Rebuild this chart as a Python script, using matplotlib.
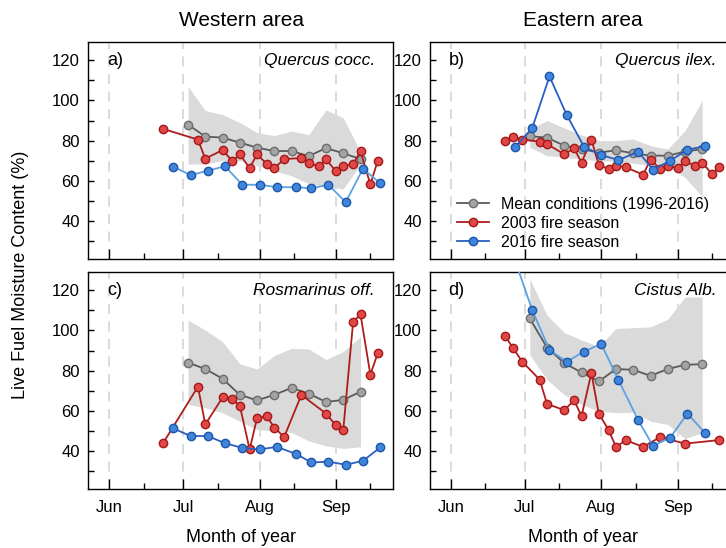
import matplotlib
matplotlib.use('Agg')
import matplotlib.pyplot as plt
from matplotlib.ticker import FixedLocator

plt.rcParams['font.family'] = ['Liberation Sans', 'DejaVu Sans']

# x positions are day of year
month_days = [152, 182, 213, 244]
month_names = ['Jun', 'Jul', 'Aug', 'Sep']
mid_month_days = [166, 196, 227, 258]

# weekly mean conditions (1996-2016)
mean_days = [184, 191, 198, 205, 212, 219, 226, 233, 240, 247, 254]

# a) Quercus cocc.
a_mean = [88, 82, 81.5, 79, 76.5, 74.8, 74.8, 72.3, 76.3, 73.7, 70.8]
a_upper = [107, 95, 93, 89, 84, 82.5, 84.7, 83, 95.3, 91.3, 74.5]
a_lower = [68.3, 68.3, 70, 70, 67.5, 65, 62.5, 58.5, 57, 56, 68]
a_days03 = [174, 188, 191, 198, 202, 205, 209, 212, 216, 219, 223, 230, 233, 237, 240, 244, 247, 251, 254, 258, 261]
a_fire03 = [85.8, 80.5, 71, 75.3, 69.8, 73.2, 66.3, 73.2, 68.3, 66.2, 70.8, 71.3, 68.8, 67.2, 70.7, 64.7, 67.3, 68.3, 74.7, 58.2, 70]
a_days16 = [178, 185, 192, 199, 206, 213, 220, 228, 234, 241, 248, 255, 262]
a_fire16 = [67, 62.8, 65, 67.2, 58, 58, 56.8, 56.8, 56.2, 58, 49.3, 66, 58.7]

# b) Quercus ilex.
b_mean = [82.2, 81.5, 77.5, 75.8, 74, 75.2, 73.7, 72.5, 72.5, 74.5, 75.8]
b_upper = [85.8, 90, 86.3, 82.8, 80, 80, 80.8, 77.5, 75.8, 85, 100]
b_lower = [76.7, 72.5, 71.7, 70.8, 70, 69.7, 68.8, 67.5, 67, 61.7, 52]
b_days03 = [174, 177, 181, 188, 191, 198, 202, 205, 209, 212, 216, 219, 223, 230, 233, 237, 240, 244, 247, 251, 254, 258, 261]
b_fire03 = [80, 81.7, 80.5, 79.5, 78.3, 73.2, 76.2, 69, 80.5, 68, 65.8, 67.5, 66.7, 63, 70.5, 65.8, 67.5, 66.2, 69.7, 67.5, 69, 63.3, 67]
b_days16 = [178, 185, 192, 199, 206, 213, 220, 228, 234, 241, 248, 255]
b_fire16 = [76.7, 86.3, 112, 92.8, 77, 72.8, 70.3, 74.5, 65.5, 70, 75.5, 77.2]

# c) Rosmarinus off.
c_mean = [84, 80.8, 76, 67.9, 65.2, 67.9, 71.4, 68.5, 64.4, 65.4, 69.5]
c_upper = [105.2, 100.2, 94.4, 83.4, 80.8, 87.5, 91.1, 90.8, 85.5, 89.5, 96.9]
c_lower = [63.1, 61.5, 59, 54.8, 50.7, 49.9, 49.1, 45, 42.5, 41.2, 42]
c_days03 = [174, 188, 191, 198, 202, 205, 209, 212, 216, 219, 223, 230, 240, 244, 247, 251, 254, 258, 261]
c_fire03 = [44.1, 72, 53.2, 66.6, 65.6, 62.6, 40.7, 56.3, 57.2, 51.6, 46.9, 67.9, 58.6, 52.7, 50.4, 104.3, 108, 78, 88.7]
c_days16 = [178, 185, 192, 199, 206, 213, 220, 228, 234, 241, 248, 255, 262]
c_fire16 = [51.2, 47.4, 47.4, 43.8, 41.5, 40.7, 42, 38.4, 34.2, 34.6, 33.1, 35, 41.7]

# d) Cistus Alb.
d_mean = [106, 91.5, 83.7, 79.1, 74.6, 80.8, 80.4, 77.4, 80.8, 82.9, 83.2]
d_upper = [125.8, 107.6, 99, 95.3, 92, 101, 101.4, 101.8, 105.6, 116.7, 116.7]
d_lower = [87.8, 75.5, 68, 63.1, 59.8, 59, 59.3, 54.8, 53.2, 46.1, 49.1]
d_days03 = [174, 177, 181, 188, 191, 198, 202, 205, 209, 212, 216, 219, 223, 230, 237, 247, 261]
d_fire03 = [97.4, 91.5, 84.4, 75.5, 63.4, 60.3, 65.2, 57.3, 78.8, 58.6, 50.4, 42, 45.3, 42, 46.9, 43.6, 45.4]
d_days16 = [178, 185, 192, 199, 206, 213, 220, 228, 234, 241, 248, 255]
d_fire16 = [135, 110.1, 90.3, 84.4, 89.5, 93.3, 75.3, 55.3, 42.5, 46.6, 58.6, 49.1]

panels = [
    ('a)', 'Quercus cocc.', a_mean, a_upper, a_lower, a_days03, a_fire03, a_days16, a_fire16, '#5ba2e3'),
    ('b)', 'Quercus ilex.', b_mean, b_upper, b_lower, b_days03, b_fire03, b_days16, b_fire16, '#2a5fc2'),
    ('c)', 'Rosmarinus off.', c_mean, c_upper, c_lower, c_days03, c_fire03, c_days16, c_fire16, '#2a5fc2'),
    ('d)', 'Cistus Alb.', d_mean, d_upper, d_lower, d_days03, d_fire03, d_days16, d_fire16, '#5ba2e3'),
]

fig = plt.figure(figsize=(7.26, 5.48), dpi=100)

# axes boxes in figure fraction (right column runs past the image edge)
positions = [
    [0.1216, 0.5274, 0.4201, 0.3954],
    [0.5923, 0.5274, 0.4201, 0.3954],
    [0.1216, 0.1077, 0.4201, 0.3954],
    [0.5923, 0.1077, 0.4201, 0.3954],
]

for i, (tag, name, mean, up, lo, d03, v03, d16, v16, blue) in enumerate(panels):
    ax = fig.add_axes(positions[i])
    for m in month_days:
        ax.axvline(m, color='#d4d4d4', linestyle=(0, (6, 4.5)), linewidth=1.2, zorder=0)
    ax.fill_between(mean_days, lo, up, color='#dadada', linewidth=0, zorder=1)
    l1, = ax.plot(mean_days, mean, color='#5a5a5a', linewidth=1.3, marker='o', markersize=6,
                  markerfacecolor='#a3a3a3', markeredgecolor='#6e6e6e', markeredgewidth=1.0, zorder=3,
                  label='Mean conditions (1996-2016)')
    l2, = ax.plot(d03, v03, color='#b01c1c', linewidth=1.3, marker='o', markersize=6,
                  markerfacecolor='#e04848', markeredgecolor='#a51818', markeredgewidth=1.0, zorder=4,
                  label='2003 fire season')
    l3, = ax.plot(d16, v16, color=blue, linewidth=1.3, marker='o', markersize=6,
                  markerfacecolor='#3f86db', markeredgecolor='#1f55a8', markeredgewidth=1.0, zorder=5,
                  label='2016 fire season')

    ax.set_xlim(143.5, 267.3)
    ax.set_ylim(21, 129)
    ax.xaxis.set_major_locator(FixedLocator(month_days))
    ax.xaxis.set_minor_locator(FixedLocator(mid_month_days))
    ax.yaxis.set_major_locator(FixedLocator([30, 40, 50, 60, 70, 80, 90, 100, 110, 120]))
    ax.set_yticklabels(['', '40', '', '60', '', '80', '', '100', '', '120'])
    ax.tick_params(axis='x', which='major', direction='in', length=7, width=1.0)
    ax.tick_params(axis='x', which='minor', direction='in', length=4.5, width=1.0)
    ax.tick_params(axis='y', direction='in', length=4.5, width=1.0, labelsize=12, pad=6)
    ax.tick_params(axis='x', labelsize=12, pad=8)
    if i < 2:
        ax.set_xticklabels([])
    else:
        ax.set_xticklabels(month_names)
        ax.set_xlabel('Month of year', fontsize=13, labelpad=10)
    for s in ax.spines.values():
        s.set_linewidth(1.0)

    ax.text(0.061, 0.918, tag, transform=ax.transAxes, fontsize=13, ha='left', va='center')
    ax.text(0.94, 0.918, name, transform=ax.transAxes, fontsize=12.5, ha='right', va='center',
            style='italic')

    if i == 1:
        ax.legend(handles=[l1, l2, l3], loc='lower left', bbox_to_anchor=(0.04, -0.025),
                  frameon=False, fontsize=11.5, handlelength=2.0, labelspacing=0.25,
                  handletextpad=0.8)

fig.text(0.332, 0.963, 'Western area', fontsize=15, ha='center', va='center')
fig.text(0.803, 0.963, 'Eastern area', fontsize=15, ha='center', va='center')
fig.text(0.028, 0.498, 'Live Fuel Moisture Content (%)', fontsize=13, rotation=90,
         ha='center', va='center')

fig.savefig('out.png', dpi=100)
